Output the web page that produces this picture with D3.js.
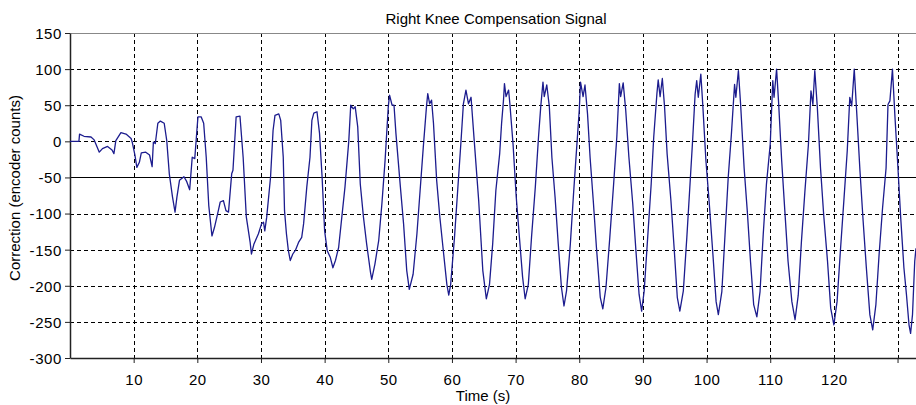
<!DOCTYPE html>
<html>
<head>
<meta charset="utf-8">
<script src="https://cdn.jsdelivr.net/npm/d3@7"></script>
<style>
  html, body { margin: 0; padding: 0; background: #fff; }
  svg { display: block; font-family: "Liberation Sans", Arial, sans-serif; }
</style>
</head>
<body>
<svg id="chart" width="916" height="405"></svg>
<script>
// ---- data ----
const timeS = [
  0, 1.4, 1.5, 2.2, 3.3, 3.8, 4.6, 5.1, 5.9, 6.6, 6.9, 7.2, 8.0, 8.8, 9.6, 9.8,
  10.2, 10.5, 10.9, 11.2, 11.9, 12.5, 12.9, 13.1, 13.4, 13.8, 14.2, 14.8, 15.2, 15.6,
  16.1, 16.5, 16.8, 17.2, 17.9, 18.3, 18.8, 19.2, 19.6, 19.9, 20.1, 20.6, 21.0, 21.4,
  21.8, 22.3, 22.7, 23.3, 23.6, 24.1, 24.5, 24.9, 25.4, 25.6, 26.1, 26.7, 27.2, 27.7,
  28.3, 28.5, 28.9, 29.6, 30.1, 30.4, 30.6, 30.9, 31.5,
  31.9, 32.2, 32.8, 33.1, 33.5, 33.7, 34.0, 34.3, 34.6, 35.0, 35.4, 35.9, 36.4, 36.7,
  37.2, 37.7, 38.0, 38.3, 38.8, 39.2, 39.6, 40.0, 40.4, 40.9, 41.3, 41.7, 42.2, 42.7,
  43.2, 43.8, 44.1, 44.5, 44.8, 45.2, 45.6, 46.1, 46.6, 47.2, 47.4, 47.9, 48.5, 49.0,
  49.5, 50.0, 50.2, 50.6, 50.9, 51.2, 51.9, 52.4, 52.9, 53.3, 53.9, 54.5, 55.0, 55.5,
  56.0, 56.2, 56.5, 56.8, 57.1, 57.6, 58.1, 58.7, 59.2, 59.5, 59.8, 60.4, 60.9, 61.4,
  61.8, 62.2, 62.6, 63.0, 63.5, 64.2,
  64.85, 65.4, 65.9, 66.4, 66.9, 67.5, 67.8, 68.1, 68.25, 68.5, 68.9, 69.1, 69.6, 70.1,
  70.6, 71.1, 71.5, 72.0, 72.5, 73.1, 73.6, 73.95, 74.3, 74.5, 74.9, 75.3, 75.7, 76.2,
  76.7, 77.2, 77.6, 78.0, 78.6, 79.1, 79.6, 80.0, 80.2, 80.6, 80.9, 81.3, 81.7, 82.2,
  82.7, 83.3, 83.7, 84.2, 84.8, 85.4, 85.9, 86.3, 86.5, 86.9, 87.3, 87.8, 88.4, 88.9,
  89.4, 89.8, 90.2, 90.75, 91.3, 91.7, 92.2, 92.4, 92.7, 93.05, 93.4, 93.8, 94.4, 94.9,
  95.4, 95.8, 96.35, 96.9, 97.4,
  97.8, 98.2, 98.45, 98.7, 99.1, 99.4, 99.9, 100.4, 101.0, 101.5, 101.85, 102.4, 102.9,
  103.4, 103.9, 104.4, 104.6, 105.0, 105.35, 105.9, 106.4, 106.9, 107.4, 107.9, 108.4,
  108.9, 109.4, 110.0, 110.4, 110.6, 111.0, 111.3, 111.8, 112.3, 112.8, 113.4, 113.9,
  114.4, 114.9, 115.45, 116.0, 116.4, 116.7, 117.0, 117.4, 117.9, 118.4, 119.0, 119.5,
  120.0, 120.5, 121.05, 121.6, 122.1, 122.5, 122.8, 123.2, 123.6, 124.1, 124.6, 125.1,
  125.65, 126.1, 126.6, 127.1, 127.65, 128.2, 128.5, 128.8, 129.2, 129.6, 130.0, 130.5,
  131.0, 131.4, 131.8, 132.05, 132.35, 132.7, 132.9
];
const correction = [
  0, 0, 10, 7, 6, 2, -15, -10, -7, -12, -17, 1, 12, 10, 4, -2,
  -19, -36, -29, -16, -15, -19, -35, -1, -3, 25, 28, 25, 1, -45,
  -77, -98, -77, -54, -49, -55, -67, -22, -24, 11, 34, 34, 25, -22,
  -89, -131, -119, -96, -84, -82, -96, -98, -45, -40, 34, 35, -22, -105,
  -140, -156, -142, -128, -114, -112, -124, -105, -50,
  15, 36, 38, 29, -22, -96, -128, -151, -165, -156, -151, -140, -133, -114,
  -63, -22, 29, 39, 41, 11, -49, -124, -151, -161, -175, -165, -147, -105,
  -63, 1, 50, 45, 48, 20, -59, -105, -142, -181, -191, -170, -137, -86,
  -26, 48, 64, 50, 50, 11, -63, -114, -179, -205, -184, -128, -68, -8,
  48, 66, 52, 57, 25, -54, -105, -156, -198, -213, -198, -133, -68, -3,
  52, 71, 52, 61, 1, -82,
  -179, -218, -198, -142, -68, -17, 25, 57, 80, 62, 71, 52, -4, -77,
  -133, -188, -218, -198, -133, -63, 6, 48, 82, 62, 78, 48, -22, -77,
  -142, -202, -228, -207, -142, -73, -8, 43, 82, 62, 78, 38, -22, -82,
  -147, -216, -232, -202, -133, -59, 6, 80, 62, 81, 43, -22, -86, -151,
  -212, -235, -207, -133, -59, 6, 66, 85, 62, 87, 48, -17, -82, -147,
  -216, -235, -207, -133, -59,
  0, 65, 84, 61, 93, 51, -27, -83, -157, -222, -240, -208, -129,
  -50, 10, 79, 61, 98, 51, -37, -97, -166, -226, -243, -208,
  -129, -60, -4, 84, 61, 100, 56, -27, -97, -166, -222, -247,
  -213, -139, -69, -4, 70, 51, 98, 47, -37, -102, -166, -231,
  -254, -222, -148, -78, -13, 61, 49, 100, 38, -41, -111, -175,
  -240, -261, -226, -157, -92, -37, 51, 56, 100, 33, -27, -106,
  -175, -212, -254, -266, -240, -166, -148
];
const yTicks = [150, 100, 50, 0, -50, -100, -150, -200, -250, -300];
const xTicks = [10, 20, 30, 40, 50, 60, 70, 80, 90, 100, 110, 120, 130];
const xTickLabels = ["10", "20", "30", "40", "50", "60", "70", "80", "90", "100", "110", "120", ""];
const titleText = "Right Knee Compensation Signal";
const xLabel = "Time (s)";
const yLabel = "Correction (encoder counts)";

// ---- layout ----
const svg = d3.select("#chart");
const padL = 70, padR = 916, padT = 33, padB = 358;
const x = d3.scaleLinear().domain([0, 132.9]).range([padL, padR]);
const y = d3.scaleLinear().domain([-300, 150]).range([padB, padT]);

// grid
const grid = svg.append("g");
grid.selectAll("line.hg").data(yTicks.filter(v => v !== 150 && v !== -300 && v !== -50))
  .join("line").attr("class", "hg")
  .attr("x1", padL).attr("x2", padR)
  .attr("y1", d => Math.round(y(d)) + 0.5).attr("y2", d => Math.round(y(d)) + 0.5)
  .attr("stroke", "#000").attr("stroke-width", 1).attr("stroke-dasharray", "4,3");
grid.selectAll("line.vg").data(xTicks)
  .join("line").attr("class", "vg")
  .attr("x1", d => Math.round(x(d)) + 0.5).attr("x2", d => Math.round(x(d)) + 0.5)
  .attr("y1", padT).attr("y2", padB)
  .attr("stroke", "#000").attr("stroke-width", 1).attr("stroke-dasharray", "4,3");
// top border
grid.append("line").attr("x1", padL).attr("x2", padR)
  .attr("y1", Math.round(y(150)) + 0.5).attr("y2", Math.round(y(150)) + 0.5)
  .attr("stroke", "#888").attr("stroke-width", 1);
// solid reference line at -50
grid.append("line").attr("x1", padL).attr("x2", padR)
  .attr("y1", Math.round(y(-50)) + 0.5).attr("y2", Math.round(y(-50)) + 0.5)
  .attr("stroke", "#000").attr("stroke-width", 1);

// axes
const yAxis = svg.append("g").attr("transform", `translate(${padL},0)`)
  .call(d3.axisLeft(y).tickValues(yTicks).tickSize(5).tickSizeOuter(0).tickPadding(3)
    .tickFormat(d => String(d)));
const xAxis = svg.append("g").attr("transform", `translate(0,${padB})`)
  .call(d3.axisBottom(x).tickValues(xTicks).tickSize(5).tickSizeOuter(0).tickPadding(11)
    .tickFormat((d, i) => xTickLabels[i]));
[yAxis, xAxis].forEach(a => {
  a.select(".domain").attr("stroke", "#222").attr("stroke-width", 1.5);
  a.selectAll(".tick line").attr("stroke", "#222");
  a.selectAll(".tick text").attr("fill", "#000").style("font-size", "15px")
    .style("font-family", "'Liberation Sans', Arial, sans-serif");
});
yAxis.selectAll(".tick text").attr("dy", "0.36em").attr("letter-spacing", "0.6px");
xAxis.selectAll(".tick text").attr("letter-spacing", "0.5px");

// line
const pts = timeS.map((t, i) => [t, correction[i]]);
svg.append("path").datum(pts)
  .attr("fill", "none").attr("stroke", "#1c1c8e").attr("stroke-width", 1.3)
  .attr("stroke-linejoin", "round")
  .attr("d", d3.line().x(d => x(d[0])).y(d => y(d[1])));

// titles
svg.append("text").attr("x", 496).attr("y", 24).attr("text-anchor", "middle")
  .style("font-size", "15px").attr("fill", "#000").text(titleText);
svg.append("text").attr("x", 483).attr("y", 401).attr("text-anchor", "middle")
  .style("font-size", "15px").attr("fill", "#000").text(xLabel);
svg.append("text").attr("transform", "translate(20,188) rotate(-90)")
  .attr("text-anchor", "middle").style("font-size", "15px").attr("fill", "#000").text(yLabel);
</script>
</body>
</html>
